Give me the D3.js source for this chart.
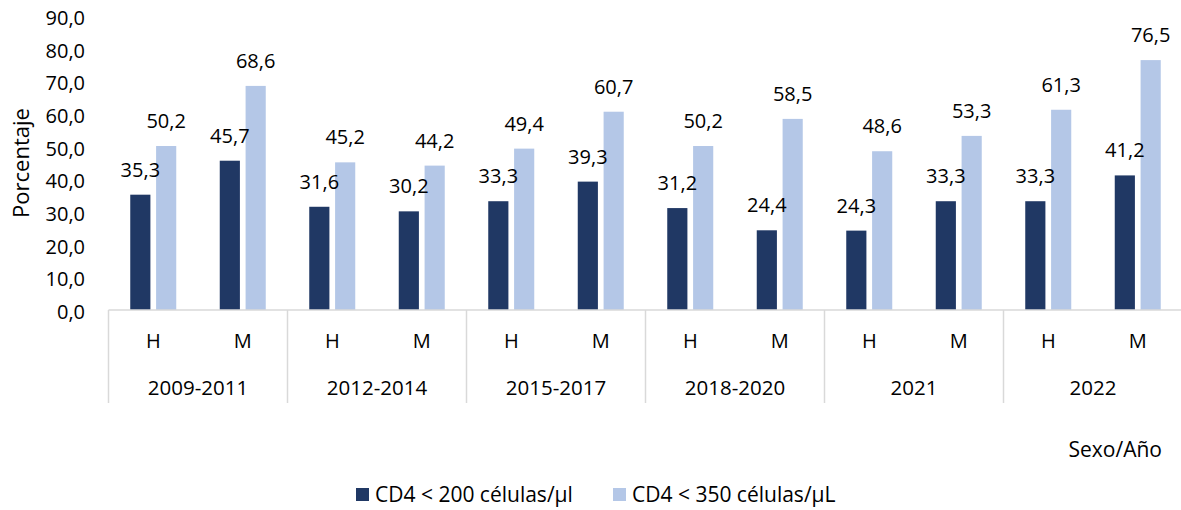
<!DOCTYPE html>
<html>
<head>
<meta charset="utf-8">
<script src="https://cdn.jsdelivr.net/npm/d3@7"></script>
<style>
  body { margin: 0; background: #fff; }
  svg { display: block; font-family: "Open Sans", sans-serif; }
</style>
</head>
<body>
<svg id="chart" width="1181" height="510"></svg>
<script>
// data
const years = ['2009-2011', '2012-2014', '2015-2017', '2018-2020', '2021', '2022'];
const sexes = ['H', 'M'];
const seriesNames = ['CD4 < 200 células/µl', 'CD4 < 350 células/µL'];
const cd4Under200 = [35.3, 45.7, 31.6, 30.2, 33.3, 39.3, 31.2, 24.4, 24.3, 33.3, 33.3, 41.2];
const cd4Under350 = [50.2, 68.6, 45.2, 44.2, 49.4, 60.7, 50.2, 58.5, 48.6, 53.3, 61.3, 76.5];
const yTicks = [0, 10, 20, 30, 40, 50, 60, 70, 80, 90];
const colors = ['#203864', '#b4c7e7'];

const rows = [];
years.forEach((yr, i) => {
  sexes.forEach((s, j) => {
    const k = i * sexes.length + j;
    rows.push({ key: yr + '|' + s, year: yr, sex: s, values: [cd4Under200[k], cd4Under350[k]] });
  });
});

const svg = d3.select('#chart');
const plotLeft = 108.5, plotRight = 1182.5, plotTop = 16, plotBottom = 310;
const fmt = v => d3.format('.1f')(v).replace('.', ',');

const y = d3.scaleLinear().domain([0, 90]).range([plotBottom, plotTop]);
const xYear = d3.scaleBand().domain(years).range([plotLeft, plotRight]);
const xSub = d3.scaleBand().domain(rows.map(r => r.key)).range([plotLeft, plotRight]);
const xSeries = d3.scaleBand().domain([0, 1]).range([0, 46]).paddingInner(0.22);

// y tick labels (no axis line in the reference)
const yAxis = d3.axisLeft(y).tickValues(yTicks).tickFormat(fmt).tickSize(0).tickPadding(0);
const gy = svg.append('g').attr('transform', 'translate(85,2)').call(yAxis);
gy.select('.domain').remove();
gy.selectAll('text').attr('font-size', 20).attr('fill', '#000').attr('font-family', '"Open Sans", sans-serif');

svg.append('text')
  .attr('transform', `translate(29,${(plotTop + plotBottom) / 2}) rotate(-90)`)
  .attr('text-anchor', 'middle')
  .attr('font-size', 22)
  .text('Porcentaje');

// bars
const groups = svg.append('g').selectAll('g')
  .data(rows)
  .join('g')
  .attr('transform', d => `translate(${xSub(d.key) + xSub.bandwidth() / 2 - 23},0)`);

groups.selectAll('rect')
  .data(d => d.values.map((v, i) => ({ v, i })))
  .join('rect')
  .attr('x', d => xSeries(d.i))
  .attr('y', d => y(d.v))
  .attr('width', xSeries.bandwidth())
  .attr('height', d => y(0) - y(d.v))
  .attr('fill', d => colors[d.i]);

groups.selectAll('text')
  .data(d => d.values.map((v, i) => ({ v, i })))
  .join('text')
  .attr('x', d => xSeries(d.i) + xSeries.bandwidth() / 2)
  .attr('y', d => y(d.v) - 18)
  .attr('text-anchor', 'middle')
  .attr('font-size', 20)
  .text(d => fmt(d.v));

// category axis: baseline + separators
const axisColor = '#d9d9d9';
svg.append('line')
  .attr('x1', plotLeft).attr('x2', plotRight)
  .attr('y1', plotBottom).attr('y2', plotBottom)
  .attr('stroke', axisColor).attr('stroke-width', 1.5);

svg.append('g').selectAll('line')
  .data(years.concat(['end']))
  .join('line')
  .attr('x1', d => d === 'end' ? plotRight : xYear(d))
  .attr('x2', d => d === 'end' ? plotRight : xYear(d))
  .attr('y1', plotBottom).attr('y2', 403)
  .attr('stroke', axisColor).attr('stroke-width', 1.5);

svg.append('g').selectAll('text')
  .data(rows)
  .join('text')
  .attr('x', d => xSub(d.key) + xSub.bandwidth() / 2)
  .attr('y', 348)
  .attr('text-anchor', 'middle')
  .attr('font-size', 20)
  .text(d => d.sex);

svg.append('g').selectAll('text')
  .data(years)
  .join('text')
  .attr('x', d => xYear(d) + xYear.bandwidth() / 2)
  .attr('y', 395)
  .attr('text-anchor', 'middle')
  .attr('font-size', 20.5)
  .text(d => d);

svg.append('text')
  .attr('x', 1162).attr('y', 457)
  .attr('text-anchor', 'end')
  .attr('font-size', 21)
  .text('Sexo/Año');

// legend
const legendX = [356, 613];
const legend = svg.append('g').selectAll('g')
  .data(seriesNames)
  .join('g')
  .attr('transform', (d, i) => `translate(${legendX[i]},0)`);
legend.append('rect')
  .attr('x', 0).attr('y', 488)
  .attr('width', 13).attr('height', 13)
  .attr('fill', (d, i) => colors[i]);
legend.append('text')
  .attr('x', 19).attr('y', 502)
  .attr('font-size', 21)
  .text(d => d);
</script>
</body>
</html>
